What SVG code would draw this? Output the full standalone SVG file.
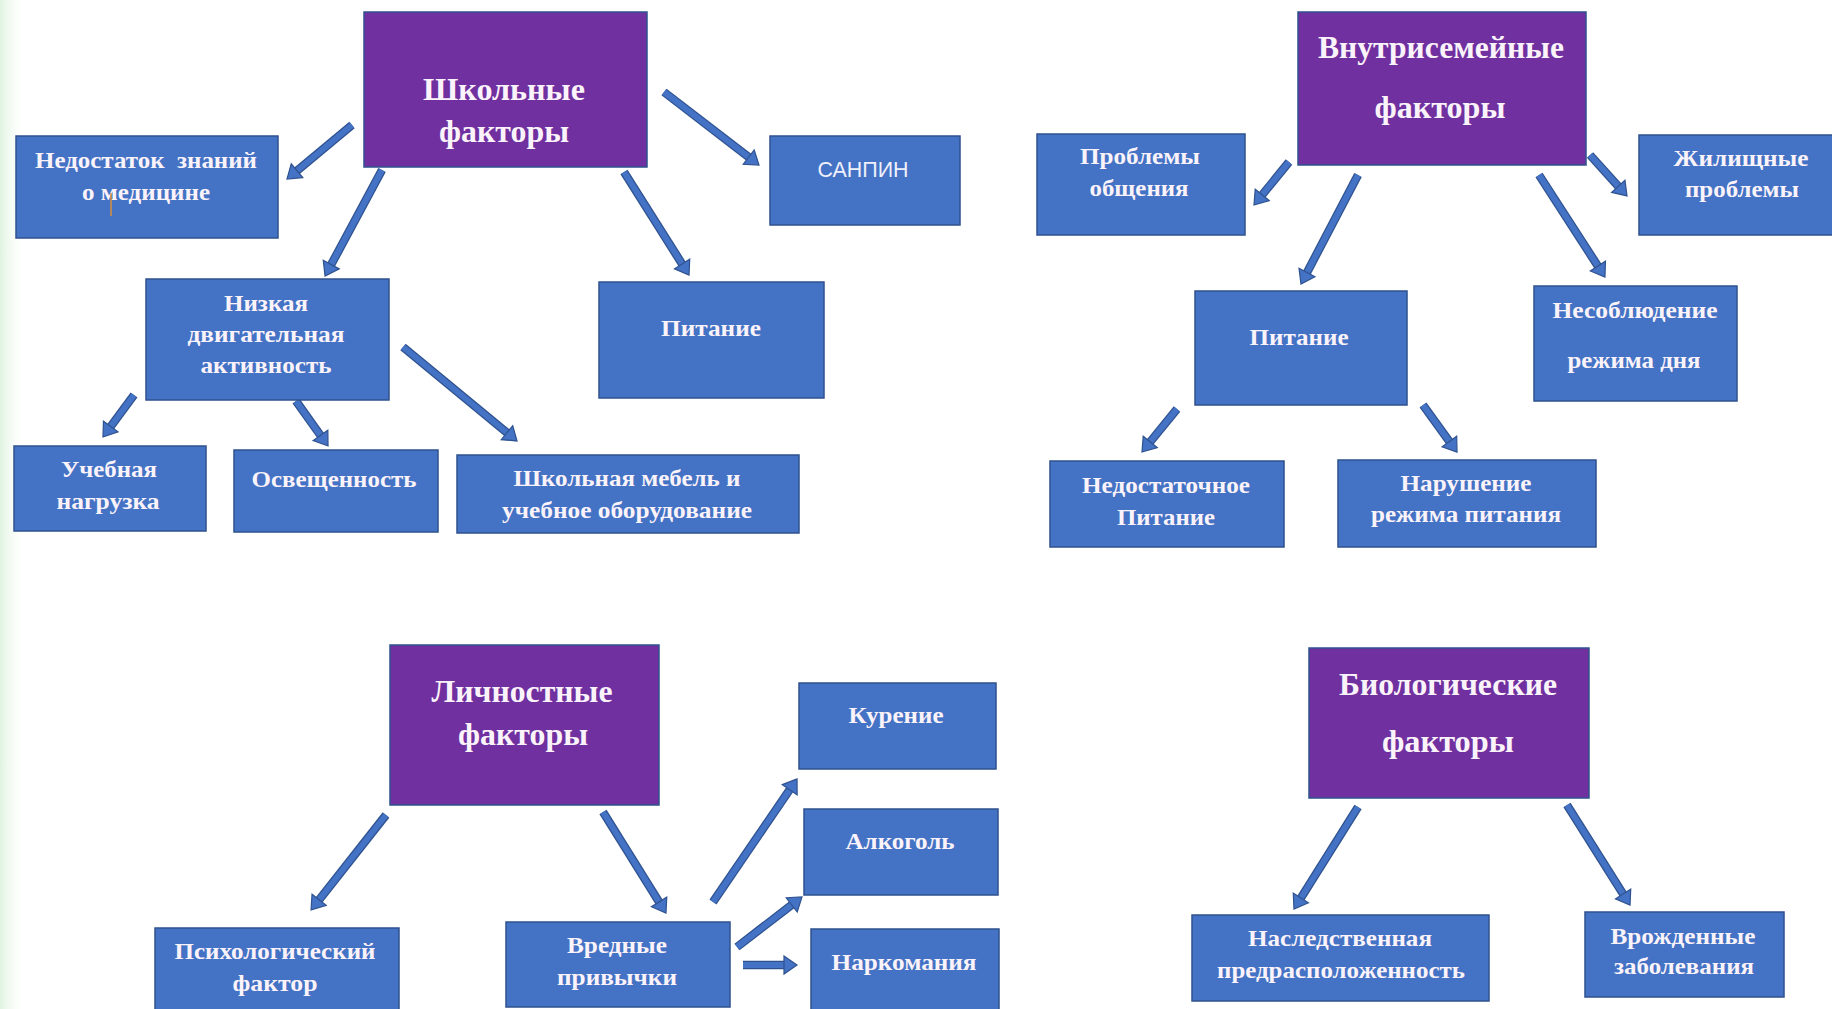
<svg xmlns="http://www.w3.org/2000/svg" width="1832" height="1009" viewBox="0 0 1832 1009">
<defs>
<linearGradient id="edge" x1="0" y1="0" x2="1" y2="0">
<stop offset="0" stop-color="#dff3df"/>
<stop offset="1" stop-color="#ffffff" stop-opacity="0"/>
</linearGradient>
<marker id="ah" markerUnits="userSpaceOnUse" markerWidth="20" markerHeight="22" refX="0" refY="9" orient="auto" overflow="visible">
<path d="M0,0 L13,9 L0,18 Z" fill="#4472C4" stroke="#2F528F" stroke-width="1.2" stroke-linejoin="miter"/>
</marker>
<style>
.b{fill:#4472C4;stroke:#2F528F;stroke-width:1.5}
.p{fill:#7030A0;stroke:#2F528F;stroke-width:1.5}
.t{font-family:"Liberation Serif","DejaVu Serif",serif;font-weight:bold;font-size:23px;fill:#fbf3fa;text-anchor:middle}
.h{font-size:31px}
.s{font-family:"Liberation Sans",Arial,sans-serif;font-weight:normal;font-size:22px;fill:#eef0fb;text-anchor:middle}
.ao{fill:none;stroke:#2F528F;stroke-width:8.5}
.ai{fill:none;stroke:#4472C4;stroke-width:6;marker-end:url(#ah)}
</style>
</defs>
<rect x="0" y="0" width="1832" height="1009" fill="#ffffff"/>
<rect x="0" y="0" width="26" height="1009" fill="url(#edge)"/>

<g id="connectors">
<g class="outline">
<line class="ao" x1="352" y1="125" x2="297" y2="170.7"/>
<line class="ao" x1="382" y1="170" x2="331.2" y2="264.6"/>
<line class="ao" x1="624" y1="172" x2="682.1" y2="264"/>
<line class="ao" x1="664" y1="92" x2="748.7" y2="157.1"/>
<line class="ao" x1="134" y1="395" x2="110.7" y2="426.5"/>
<line class="ao" x1="296" y1="401" x2="320.5" y2="435.4"/>
<line class="ao" x1="403" y1="347" x2="507" y2="432.7"/>
<line class="ao" x1="1289" y1="162" x2="1262.2" y2="194.9"/>
<line class="ao" x1="1358" y1="175" x2="1307" y2="272.5"/>
<line class="ao" x1="1539" y1="175" x2="1597.9" y2="266.1"/>
<line class="ao" x1="1590" y1="155" x2="1618.3" y2="186.3"/>
<line class="ao" x1="1177" y1="409" x2="1150.2" y2="441.9"/>
<line class="ao" x1="1423" y1="405" x2="1449.4" y2="441.5"/>
<line class="ao" x1="386" y1="815" x2="319.1" y2="899.8"/>
<line class="ao" x1="603" y1="812" x2="659.1" y2="902"/>
<line class="ao" x1="713" y1="902" x2="789.7" y2="789.7"/>
<line class="ao" x1="737" y1="947" x2="791.7" y2="904.9"/>
<line class="ao" x1="743" y1="965" x2="784" y2="965"/>
<line class="ao" x1="1358" y1="807" x2="1300.9" y2="898"/>
<line class="ao" x1="1567" y1="805" x2="1623.1" y2="894"/>
</g>
<g class="fill">
<line class="ai" x1="352" y1="125" x2="297" y2="170.7"/>
<line class="ai" x1="382" y1="170" x2="331.2" y2="264.6"/>
<line class="ai" x1="624" y1="172" x2="682.1" y2="264"/>
<line class="ai" x1="664" y1="92" x2="748.7" y2="157.1"/>
<line class="ai" x1="134" y1="395" x2="110.7" y2="426.5"/>
<line class="ai" x1="296" y1="401" x2="320.5" y2="435.4"/>
<line class="ai" x1="403" y1="347" x2="507" y2="432.7"/>
<line class="ai" x1="1289" y1="162" x2="1262.2" y2="194.9"/>
<line class="ai" x1="1358" y1="175" x2="1307" y2="272.5"/>
<line class="ai" x1="1539" y1="175" x2="1597.9" y2="266.1"/>
<line class="ai" x1="1590" y1="155" x2="1618.3" y2="186.3"/>
<line class="ai" x1="1177" y1="409" x2="1150.2" y2="441.9"/>
<line class="ai" x1="1423" y1="405" x2="1449.4" y2="441.5"/>
<line class="ai" x1="386" y1="815" x2="319.1" y2="899.8"/>
<line class="ai" x1="603" y1="812" x2="659.1" y2="902"/>
<line class="ai" x1="713" y1="902" x2="789.7" y2="789.7"/>
<line class="ai" x1="737" y1="947" x2="791.7" y2="904.9"/>
<line class="ai" x1="743" y1="965" x2="784" y2="965"/>
<line class="ai" x1="1358" y1="807" x2="1300.9" y2="898"/>
<line class="ai" x1="1567" y1="805" x2="1623.1" y2="894"/>
</g>
</g>

<g id="school">
<rect class="p" x="364" y="12" width="283" height="155"/>
<text class="t h" x="504" y="100" textLength="162" lengthAdjust="spacingAndGlyphs">Школьные</text>
<text class="t h" x="504" y="142" textLength="130" lengthAdjust="spacingAndGlyphs">факторы</text>
</g>
<g id="knowledge">
<rect class="b" x="16" y="136" width="262" height="102"/>
<text class="t" x="146" y="168" textLength="222" lengthAdjust="spacingAndGlyphs" style="white-space:pre">Недостаток  знаний</text>
<text class="t" x="146" y="200" textLength="128" lengthAdjust="spacingAndGlyphs">о медицине</text>
<line x1="111" y1="193" x2="111" y2="216" stroke="#d8903c" stroke-width="1.5"/>
</g>
<g id="sanpin">
<rect class="b" x="770" y="136" width="190" height="89"/>
<text class="s" x="863" y="177" textLength="91" lengthAdjust="spacingAndGlyphs">САНПИН</text>
</g>
<g id="lowactivity">
<rect class="b" x="146" y="279" width="243" height="121"/>
<text class="t" x="266" y="311" textLength="84" lengthAdjust="spacingAndGlyphs">Низкая</text>
<text class="t" x="266" y="342" textLength="157" lengthAdjust="spacingAndGlyphs">двигательная</text>
<text class="t" x="266" y="373" textLength="131" lengthAdjust="spacingAndGlyphs">активность</text>
</g>
<g id="nutrition1">
<rect class="b" x="599" y="282" width="225" height="116"/>
<text class="t" x="711" y="336" textLength="100" lengthAdjust="spacingAndGlyphs">Питание</text>
</g>
<g id="workload">
<rect class="b" x="14" y="446" width="192" height="85"/>
<text class="t" x="109" y="477" textLength="96" lengthAdjust="spacingAndGlyphs">Учебная</text>
<text class="t" x="108" y="509" textLength="103" lengthAdjust="spacingAndGlyphs">нагрузка</text>
</g>
<g id="lighting">
<rect class="b" x="234" y="450" width="204" height="82"/>
<text class="t" x="334" y="487" textLength="165" lengthAdjust="spacingAndGlyphs">Освещенность</text>
</g>
<g id="furniture">
<rect class="b" x="457" y="455" width="342" height="78"/>
<text class="t" x="627" y="486" textLength="227" lengthAdjust="spacingAndGlyphs">Школьная мебель и</text>
<text class="t" x="627" y="518" textLength="250" lengthAdjust="spacingAndGlyphs">учебное оборудование</text>
</g>

<g id="family">
<rect class="p" x="1298" y="12" width="288" height="153"/>
<text class="t h" x="1441" y="58" textLength="246" lengthAdjust="spacingAndGlyphs">Внутрисемейные</text>
<text class="t h" x="1440" y="118" textLength="131" lengthAdjust="spacingAndGlyphs">факторы</text>
</g>
<g id="communication">
<rect class="b" x="1037" y="134" width="208" height="101"/>
<text class="t" x="1140" y="164" textLength="120" lengthAdjust="spacingAndGlyphs">Проблемы</text>
<text class="t" x="1139" y="196" textLength="99" lengthAdjust="spacingAndGlyphs">общения</text>
</g>
<g id="housing">
<rect class="b" x="1639" y="135" width="200" height="100"/>
<text class="t" x="1741" y="166" textLength="135" lengthAdjust="spacingAndGlyphs">Жилищные</text>
<text class="t" x="1742" y="197" textLength="114" lengthAdjust="spacingAndGlyphs">проблемы</text>
</g>
<g id="nutrition2">
<rect class="b" x="1195" y="291" width="212" height="114"/>
<text class="t" x="1299" y="345" textLength="99" lengthAdjust="spacingAndGlyphs">Питание</text>
</g>
<g id="dayregime">
<rect class="b" x="1534" y="286" width="203" height="115"/>
<text class="t" x="1635" y="318" textLength="165" lengthAdjust="spacingAndGlyphs">Несоблюдение</text>
<text class="t" x="1634" y="368" textLength="133" lengthAdjust="spacingAndGlyphs">режима дня</text>
</g>
<g id="insufficient">
<rect class="b" x="1050" y="461" width="234" height="86"/>
<text class="t" x="1166" y="493" textLength="168" lengthAdjust="spacingAndGlyphs">Недостаточное</text>
<text class="t" x="1166" y="525" textLength="98" lengthAdjust="spacingAndGlyphs">Питание</text>
</g>
<g id="mealregime">
<rect class="b" x="1338" y="460" width="258" height="87"/>
<text class="t" x="1466" y="491" textLength="131" lengthAdjust="spacingAndGlyphs">Нарушение</text>
<text class="t" x="1466" y="522" textLength="190" lengthAdjust="spacingAndGlyphs">режима питания</text>
</g>

<g id="personal">
<rect class="p" x="390" y="645" width="269" height="160"/>
<text class="t h" x="522" y="702" textLength="181" lengthAdjust="spacingAndGlyphs">Личностные</text>
<text class="t h" x="523" y="745" textLength="130" lengthAdjust="spacingAndGlyphs">факторы</text>
</g>
<g id="psych">
<rect class="b" x="155" y="928" width="244" height="90"/>
<text class="t" x="275" y="959" textLength="201" lengthAdjust="spacingAndGlyphs">Психологический</text>
<text class="t" x="275" y="991" textLength="85" lengthAdjust="spacingAndGlyphs">фактор</text>
</g>
<g id="habits">
<rect class="b" x="506" y="922" width="224" height="85"/>
<text class="t" x="617" y="953" textLength="100" lengthAdjust="spacingAndGlyphs">Вредные</text>
<text class="t" x="617" y="985" textLength="120" lengthAdjust="spacingAndGlyphs">привычки</text>
</g>
<g id="smoking">
<rect class="b" x="799" y="683" width="197" height="86"/>
<text class="t" x="896" y="723" textLength="95" lengthAdjust="spacingAndGlyphs">Курение</text>
</g>
<g id="alcohol">
<rect class="b" x="804" y="809" width="194" height="86"/>
<text class="t" x="900" y="849" textLength="109" lengthAdjust="spacingAndGlyphs">Алкоголь</text>
</g>
<g id="drugs">
<rect class="b" x="811" y="929" width="188" height="90"/>
<text class="t" x="904" y="970" textLength="145" lengthAdjust="spacingAndGlyphs">Наркомания</text>
</g>

<g id="biological">
<rect class="p" x="1309" y="648" width="280" height="150"/>
<text class="t h" x="1448" y="695" textLength="218" lengthAdjust="spacingAndGlyphs">Биологические</text>
<text class="t h" x="1448" y="752" textLength="132" lengthAdjust="spacingAndGlyphs">факторы</text>
</g>
<g id="hereditary">
<rect class="b" x="1192" y="915" width="297" height="86"/>
<text class="t" x="1340" y="946" textLength="184" lengthAdjust="spacingAndGlyphs">Наследственная</text>
<text class="t" x="1341" y="978" textLength="248" lengthAdjust="spacingAndGlyphs">предрасположенность</text>
</g>
<g id="congenital">
<rect class="b" x="1585" y="912" width="199" height="85"/>
<text class="t" x="1683" y="944" textLength="145" lengthAdjust="spacingAndGlyphs">Врожденные</text>
<text class="t" x="1684" y="974" textLength="140" lengthAdjust="spacingAndGlyphs">заболевания</text>
</g>
</svg>
